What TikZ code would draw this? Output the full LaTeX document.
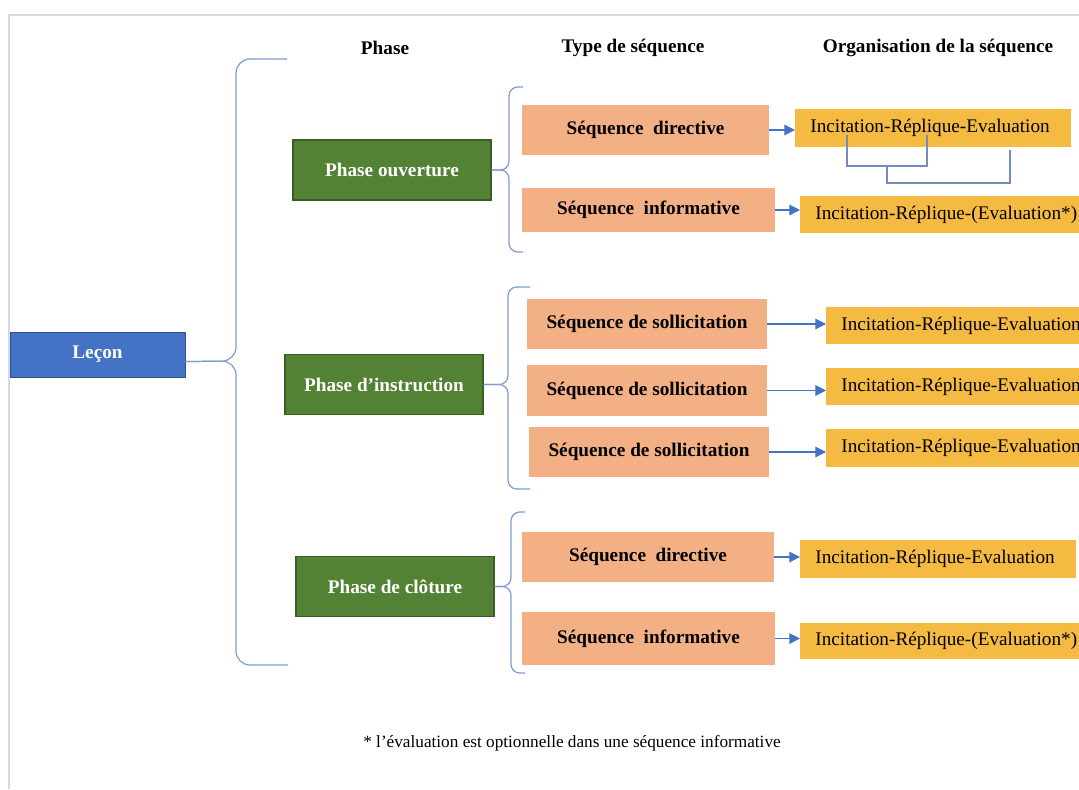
\documentclass[tikz,border=0pt,11pt]{standalone}
\usepackage{fontspec}
\setmainfont{Liberation Serif}
\usetikzlibrary{arrows.meta}
\definecolor{leconblue}{HTML}{4472C4}
\definecolor{leconedge}{HTML}{2F528F}
\definecolor{phasegreen}{HTML}{548235}
\definecolor{phaseedge}{HTML}{3B5E25}
\definecolor{seqsalmon}{HTML}{F2B084}
\definecolor{orggold}{HTML}{F5BA42}
\definecolor{bracecol}{HTML}{7F9CD0}
\definecolor{framecol}{HTML}{D9D9D9}
\begin{document}
\begin{tikzpicture}[x=0.02cm, y=-0.02cm,
    lessonbox/.style={draw=leconedge, fill=leconblue, text=white, font=\bfseries, minimum width=3.5cm, minimum height=0.9cm},
    phasebox/.style={draw=phaseedge, line width=0.8pt, fill=phasegreen, text=white, font=\bfseries, minimum width=3.96cm, minimum height=1.2cm},
    seqbox/.style={fill=seqsalmon, font=\bfseries, minimum height=1cm},
    orgbox/.style={fill=orggold, anchor=west, inner xsep=0.3cm, align=left, minimum height=0.76cm},
    head/.style={font=\bfseries},
    brace/.style={draw=bracecol, line width=0.7pt, rounded corners=5pt},
    link/.style={draw=bracecol!90!black, line width=0.6pt},
    arr/.style={draw=leconblue, line width=0.6pt, -{Triangle[length=6pt,width=6pt]}}]
    \useasboundingbox (0,0) rectangle (1079,789);
    \clip (0,0) rectangle (1079,789);
    \draw[framecol, line width=0.8pt] (9,789) -- (9,15) -- (1079,15);

    % column titles
    \node[head] (hphase) at (385,48) {Phase};
    \node[head] (htype) at (633,48) {Type de séquence};
    \node[head] (horga) at (938,48) {Organisation de la séquence};

    \node[lessonbox] (lecon) at (97.5,354.5) {Leçon};

    \node[phasebox] (ouv) at (392,170) {Phase ouverture};
    \node[phasebox] (instr) at (384,384.5) {Phase d’instruction};
    \node[phasebox] (clot) at (395,586.5) {Phase de clôture};

    \node[seqbox, minimum width=4.94cm] (dir1) at (645.5,130) {Séquence\ \ directive};
    \node[seqbox, minimum width=5.06cm, minimum height=0.88cm] (inf1) at (648.5,210) {Séquence\ \ informative};
    \node[seqbox, minimum width=4.8cm] (sol1) at (647,324) {Séquence de sollicitation};
    \node[seqbox, minimum width=4.8cm, minimum height=1.02cm] (sol2) at (647,390.5) {Séquence de sollicitation};
    \node[seqbox, minimum width=4.8cm] (sol3) at (649,452) {Séquence de sollicitation};
    \node[seqbox, minimum width=5.04cm] (dir2) at (648,557) {Séquence\ \ directive};
    \node[seqbox, minimum width=5.06cm, minimum height=1.06cm] (inf2) at (648.5,638.5) {Séquence\ \ informative};

    \node[orgbox, text width=4.92cm] (ire1) at (795,128) {Incitation-Réplique-Evaluation};
    \node[orgbox, text width=5.8cm, minimum height=0.74cm] (iri1) at (800,214.5) {Incitation-Réplique-(Evaluation*)};
    \node[orgbox, text width=5.8cm, minimum height=0.74cm] (ire2) at (826,325.5) {Incitation-Réplique-Evaluation};
    \node[orgbox, text width=5.8cm, minimum height=0.74cm] (ire3) at (826,386.5) {Incitation-Réplique-Evaluation};
    \node[orgbox, text width=5.8cm] (ire4) at (826,448) {Incitation-Réplique-Evaluation};
    \node[orgbox, text width=4.92cm] (ire5) at (800,559) {Incitation-Réplique-Evaluation};
    \node[orgbox, text width=5.8cm, minimum height=0.72cm] (iri2) at (800,641) {Incitation-Réplique-(Evaluation*)};

    \node[font=\fontsize{9.8}{12}\selectfont] (note) at (572,743) {* l’évaluation est optionnelle dans une séquence informative};

    % braces
    \draw[brace, rounded corners=8pt] (287,59) -| (236,361) -- ([yshift=-4pt]lecon.east);
    \draw[brace, rounded corners=8pt] ([yshift=-4pt]lecon.east) -- (236,361) |- (288,665);
    \draw[brace] (523,87) -| (509,170) -- (ouv.east);
    \draw[brace] (ouv.east) -- (509,170) |- (523,252);
    \draw[brace] (530,287) -| (508,384.5) -- (instr.east);
    \draw[brace] (instr.east) -- (508,384.5) |- (530,489);
    \draw[brace] (525,512) -| (511,586.5) -- (clot.east);
    \draw[brace] (clot.east) -- (511,586.5) |- (525,673);

    \foreach \a/\b in {dir1/ire1, inf1/iri1, sol1/ire2, sol2/ire3, sol3/ire4, dir2/ire5, inf2/iri2}
        \draw[arr] (\a.east) -- (\a.east -| \b.west);

    % links under the first triple
    \coordinate (l1) at (847,135);
    \coordinate (l2) at (927,135);
    \coordinate (l3) at (887,166);
    \coordinate (l4) at (1010,150);
    \draw[link] (l1) |- (l3) -| (l2);
    \draw[link] (l3) -- ++(0,17) -| (l4);
\end{tikzpicture}
\end{document}
